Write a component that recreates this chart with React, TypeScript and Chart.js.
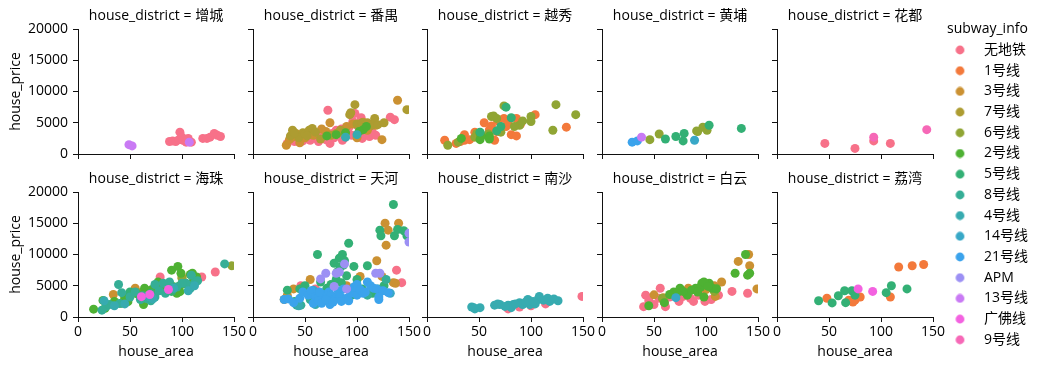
import React, { useEffect, useRef } from "react";
import { Chart, registerables } from "chart.js";
Chart.register(...registerables);

type Pt = [number, number];

const LINES = ["无地铁", "1号线", "3号线", "7号线", "6号线", "2号线", "5号线", "8号线", "4号线", "14号线", "21号线", "APM", "13号线", "广佛线", "9号线"];
const COLORS = ["#f77189", "#f3793b", "#cb9132", "#ad9c31", "#90a534", "#4eb133", "#33b075", "#35ae96", "#37abb0", "#38a8c7", "#3ba3ec", "#9c90f4", "#c97af4", "#f362e0", "#f668b7"];
const DISTRICTS = ["增城", "番禺", "越秀", "黄埔", "花都", "海珠", "天河", "南沙", "白云", "荔湾"];
const X_TICKS = [0, 50, 100, 150];
const Y_TICKS = [0, 5000, 10000, 15000, 20000];

// 增城
const zc_none: Pt[] = [[88, 2000], [91, 2100], [94, 2000], [97, 2300], [98, 3500], [100, 2700], [101, 2200], [104, 1900], [106, 2500], [109, 1900], [120, 2500], [124, 2500], [127, 2700], [131, 3300], [134, 3000], [137, 2800]];
const zc_13: Pt[] = [[49, 1500], [52, 1300], [107, 1900]];

// 番禺
const py_none: Pt[] = [[33, 1700], [36, 2300], [40, 2000], [45, 2400], [48, 2100], [52, 2600], [55, 2200], [60, 2500], [63, 2000], [66, 2800], [70, 2300], [72, 7000], [74, 1700], [78, 2600], [80, 3800], [82, 3200], [85, 4000], [88, 2600], [90, 3500], [92, 4200], [95, 3000], [98, 6500], [100, 4600], [102, 3500], [105, 2500], [108, 3200], [110, 4000], [112, 2800], [115, 3400], [118, 3000], [132, 5900], [136, 5500], [62, 3000], [76, 3300], [86, 2200], [96, 5200], [104, 5800]];
const py_3: Pt[] = [[32, 1400], [35, 2300], [38, 2700], [42, 3200], [50, 2600], [58, 3000], [66, 4000], [70, 3600], [74, 5000], [84, 3500], [90, 4400], [96, 4800], [100, 2600], [106, 5100], [112, 4400], [118, 4600], [124, 2300], [139, 8600], [110, 3800], [45, 1800]];
const py_7: Pt[] = [[36, 2900], [38, 3800], [44, 2600], [48, 3400], [50, 3200], [54, 3800], [57, 4100], [60, 3500], [65, 2400], [75, 3000], [80, 3300], [84, 3800], [88, 3500], [93, 6300], [94, 6600], [98, 7900], [100, 4800], [105, 5000], [110, 5000], [114, 4600], [117, 5700], [120, 4700], [126, 5000], [148, 7100], [40, 3400], [52, 2900]];
const py_2: Pt[] = [[71, 2900], [80, 3100], [89, 3400], [102, 3600], [106, 3900], [109, 4400]];
const py_4: Pt[] = [[89, 2700], [100, 3100]];

// 越秀
const yx_1: Pt[] = [[17, 2200], [28, 1700], [32, 2000], [36, 3100], [36, 2200], [41, 2300], [46, 3500], [55, 5000], [60, 3900], [65, 2200], [67, 3600], [68, 5300], [74, 5700], [76, 4400], [81, 3100], [86, 5700], [86, 2900], [104, 6300], [134, 4300], [62, 4500], [78, 5200], [90, 4800]];
const yx_6: Pt[] = [[20, 1400], [30, 1900], [46, 2700], [62, 6000], [67, 5700], [74, 7700], [71, 3500], [89, 4600], [100, 6000], [100, 5200], [121, 3800], [124, 7900], [143, 6300], [59, 3200], [84, 4400], [92, 5300], [64, 6100], [48, 3300]];
const yx_2: Pt[] = [[33, 2500], [51, 3400], [51, 2300], [60, 2900], [60, 2400], [52, 2800]];
const yx_5: Pt[] = [[51, 3500], [67, 3700], [71, 4400], [76, 7500], [81, 5800]];

// 黄埔
const hp_6: Pt[] = [[46, 2300], [55, 3200], [91, 3700], [97, 4300], [101, 3800], [92, 3600]];
const hp_5: Pt[] = [[61, 2400], [71, 2800], [79, 3300], [78, 2100], [103, 4600], [134, 4100]];
const hp_14: Pt[] = [[89, 2200]];
const hp_21: Pt[] = [[29, 1900], [34, 2100]];
const hp_13: Pt[] = [[38, 2700]];

// 花都
const hd_none: Pt[] = [[46, 1700], [75, 900], [93, 2100], [109, 1700]];
const hd_9: Pt[] = [[93, 2700], [144, 3900]];

// 海珠
const hz_none: Pt[] = [[79, 6400], [119, 6400], [132, 7200], [60, 3300]];
const hz_3: Pt[] = [[34, 3600], [55, 4600], [77, 5400], [100, 6400], [45, 3300], [88, 4800]];
const hz_6: Pt[] = [[148, 8200], [58, 3900], [100, 6200], [85, 4600]];
const hz_2: Pt[] = [[15, 1250], [26, 1400], [24, 2650], [42, 2200], [48, 2450], [53, 3800], [64, 4600], [71, 4400], [90, 7500], [96, 8100], [99, 7000], [98, 4050], [77, 5600], [114, 6400], [111, 5800], [90, 5000], [63, 2000], [35, 2500], [45, 3000], [58, 3600], [68, 3000], [85, 4200], [95, 3800], [105, 5200], [108, 6800], [80, 4800], [98, 5000], [110, 7000]];
const hz_5: Pt[] = [[50, 4000], [70, 3800], [90, 4100]];
const hz_8: Pt[] = [[23, 1100], [27, 1650], [39, 5200], [42, 3900], [40, 2150], [50, 3200], [55, 4000], [66, 2950], [74, 3200], [82, 5400], [88, 5600], [84, 3800], [109, 6700], [108, 4600], [112, 5400], [104, 5400], [141, 8500], [74, 5200], [100, 5400], [60, 2800], [70, 2600], [62, 3400], [30, 2000], [78, 4200], [115, 5800], [95, 4800]];
const hz_4: Pt[] = [[25, 2600], [35, 1800], [45, 2100], [68, 3300], [72, 2900], [92, 4600], [106, 4200], [112, 5000]];
const hz_gf: Pt[] = [[61, 3250], [69, 3600], [87, 4400]];

// 天河
const th_none: Pt[] = [[46, 5000], [138, 7500], [143, 5500], [60, 4500]];
const th_3: Pt[] = [[127, 15000], [140, 15000], [130, 13900], [128, 11500], [119, 9000], [55, 6000], [39, 4500], [137, 5400], [103, 6500], [33, 3500], [30, 2800], [48, 4800], [70, 4000], [90, 5000], [124, 6500], [135, 5500]];
const th_5: Pt[] = [[135, 18000], [122, 13900], [123, 13000], [136, 13000], [139, 14000], [145, 13800], [148, 13000], [92, 11800], [62, 10000], [86, 10000], [83, 9400], [78, 8600], [87, 8300], [97, 8100], [110, 8200], [33, 4300], [50, 5000], [81, 7200], [90, 6600], [71, 4600], [57, 3000], [94, 4000], [119, 4000], [126, 5000], [65, 5600], [75, 5200], [88, 9000], [84, 8000], [80, 6000], [100, 6000], [60, 4000], [45, 4500], [85, 5500], [95, 3500], [105, 4500], [115, 3800], [70, 3200], [40, 2500]];
const th_8: Pt[] = [[42, 1900], [46, 1900], [40, 2300], [55, 2800], [65, 2500], [78, 3200], [95, 4400], [110, 3500], [128, 6000], [120, 4500]];
const th_4: Pt[] = [[44, 1800], [60, 2000]];
const th_14: Pt[] = [[132, 3800], [58, 4300]];
const th_21: Pt[] = [[30, 2800], [34, 2900], [39, 2300], [45, 3000], [48, 4000], [53, 3500], [56, 4200], [58, 2200], [60, 3200], [62, 3000], [63, 2600], [66, 2200], [68, 3600], [71, 2600], [73, 4000], [74, 2000], [75, 3500], [78, 2800], [80, 3000], [82, 4200], [84, 3300], [87, 4500], [90, 3000], [94, 3800], [97, 4800], [100, 5200], [100, 3500], [103, 4400], [106, 3800], [108, 4000], [110, 5600], [113, 5000], [116, 4600], [119, 4500], [121, 2800], [125, 4200], [130, 3900], [121, 3200], [64, 4000], [70, 2800], [77, 2400], [85, 2500], [92, 2600]];
const th_apm: Pt[] = [[150, 13400], [150, 12000], [88, 8500], [70, 7000], [65, 6100], [83, 7200], [78, 4900], [90, 4500], [118, 7000], [122, 7000], [80, 7000]];

// 南沙
const ns_none: Pt[] = [[78, 1300], [149, 3300], [114, 2100], [89, 1600], [100, 1800]];
const ns_4: Pt[] = [[43, 1600], [46, 1300], [51, 1500], [65, 1900], [70, 2000], [78, 1900], [83, 2000], [89, 2300], [97, 2800], [99, 2000], [107, 2800], [108, 3300], [116, 3000], [118, 2500], [126, 2600], [104, 2100], [81, 1500], [92, 2000], [45, 1500], [68, 2100], [75, 1700], [85, 2100], [95, 2400], [102, 2500], [112, 2700], [122, 2900]];

// 白云
const by_none: Pt[] = [[42, 3500], [40, 1650], [56, 4600], [61, 1650], [55, 3000], [80, 4100], [88, 2500], [99, 2500], [125, 4100], [140, 3800], [112, 3500], [93, 3500], [74, 2500], [45, 2600], [50, 2000], [65, 3200], [70, 3800], [85, 3000], [105, 2800], [95, 4200], [60, 2300], [78, 3300]];
const by_3: Pt[] = [[50, 3550], [131, 8900], [141, 10000], [142, 8200], [149, 4500], [115, 5600], [109, 3300], [83, 4600], [59, 3100], [100, 4400], [70, 3500], [108, 5000]];
const by_6: Pt[] = [[110, 4600], [58, 3000], [108, 4100]];
const by_2: Pt[] = [[45, 1800], [60, 2300], [69, 4000], [75, 4600], [82, 3500], [90, 4600], [96, 5400], [103, 5400], [98, 3200], [128, 7000], [138, 10000], [140, 6700], [142, 7000], [106, 4600], [100, 5200], [95, 4800], [86, 4300], [78, 4100], [72, 3800], [65, 3600], [92, 4000], [110, 4500], [98, 5600], [102, 4900]];
const by_14: Pt[] = [[71, 3100]];

// 荔湾
const lw_1: Pt[] = [[48, 3000], [69, 2700], [75, 2700], [80, 3200], [109, 3200], [117, 8000], [130, 8200], [141, 8400], [73, 2400]];
const lw_5: Pt[] = [[40, 2600], [53, 2250], [59, 3400], [65, 4200], [66, 2300], [72, 4200], [75, 3500], [105, 3900], [110, 5000], [125, 4500]];
const lw_gf: Pt[] = [[78, 4500], [92, 4100]];

const PANEL_DATA: Record<string, [string, Pt[]][]> = {
  增城: [["无地铁", zc_none], ["13号线", zc_13]],
  番禺: [["无地铁", py_none], ["3号线", py_3], ["7号线", py_7], ["2号线", py_2], ["4号线", py_4]],
  越秀: [["1号线", yx_1], ["6号线", yx_6], ["2号线", yx_2], ["5号线", yx_5]],
  黄埔: [["6号线", hp_6], ["5号线", hp_5], ["14号线", hp_14], ["21号线", hp_21], ["13号线", hp_13]],
  花都: [["无地铁", hd_none], ["9号线", hd_9]],
  海珠: [["无地铁", hz_none], ["3号线", hz_3], ["6号线", hz_6], ["2号线", hz_2], ["5号线", hz_5], ["8号线", hz_8], ["4号线", hz_4], ["广佛线", hz_gf]],
  天河: [["无地铁", th_none], ["3号线", th_3], ["5号线", th_5], ["8号线", th_8], ["4号线", th_4], ["14号线", th_14], ["21号线", th_21], ["APM", th_apm]],
  南沙: [["无地铁", ns_none], ["4号线", ns_4]],
  白云: [["无地铁", by_none], ["3号线", by_3], ["6号线", by_6], ["2号线", by_2], ["14号线", by_14]],
  荔湾: [["1号线", lw_1], ["5号线", lw_5], ["广佛线", lw_gf]],
};

// layout (pixels)
const PLOT_LEFTS = [78, 253, 427, 602, 777];
const PLOT_TOPS = [29, 192];
const PLOT_W = 156;
const PLOT_H = 125;
const Y_AXIS_W = 78;
const TITLE_H = 29;
const X_AXIS_H = 45;
const RIGHT_PAD = 22;
const CW = Y_AXIS_W + PLOT_W + RIGHT_PAD;
const CH = TITLE_H + PLOT_H + X_AXIS_H;
const FONT = "'Open Sans', 'Noto Sans CJK SC', sans-serif";
const FS = 14;
const AXIS_COLOR = "#111";

function makePanel(canvas: HTMLCanvasElement, district: string, col: number, row: number) {
  const series = PANEL_DATA[district];
  const datasets = series.map(([line, pts]) => {
    const hi = LINES.indexOf(line);
    return {
      label: line,
      data: pts.map(([x, y]) => ({ x, y })),
      backgroundColor: COLORS[hi],
      borderColor: COLORS[hi],
      pointRadius: 4.5,
      pointBorderWidth: 0,
      pointHoverRadius: 4.5,
      showLine: false,
      order: LINES.length - hi,
      clip: 0,
    };
  });
  const font = { family: FONT, size: FS, lineHeight: 1 };
  return new Chart(canvas, {
    type: "scatter",
    data: { datasets },
    options: {
      responsive: false,
      animation: false,
      devicePixelRatio: 1,
      events: [],
      layout: { padding: { left: 0, top: 0, right: RIGHT_PAD, bottom: 0 } },
      plugins: {
        legend: { display: false },
        tooltip: { enabled: false },
        title: {
          display: true,
          fullSize: false,
          text: `house_district = ${district}`,
          color: "#000",
          font: { ...font, weight: "normal" },
          padding: { top: 9, bottom: TITLE_H - 9 - FS },
        },
      },
      scales: {
        x: {
          type: "linear",
          min: 0,
          max: 150,
          afterBuildTicks: (s: any) => {
            s.ticks = X_TICKS.map((v) => ({ value: v }));
          },
          afterFit: (s: any) => {
            s.height = X_AXIS_H;
            s.paddingLeft = 0;
            s.paddingRight = 0;
          },
          grid: { drawOnChartArea: false, drawTicks: true, tickLength: 5, color: AXIS_COLOR, lineWidth: 1 },
          border: { display: true, color: AXIS_COLOR, width: 1 },
          ticks: {
            display: row === 1,
            padding: 3,
            color: "#000",
            font,
            maxRotation: 0,
            autoSkip: false,
            callback: (v: any) => String(v),
          },
          title: { display: row === 1, text: "house_area", color: "#000", font, padding: { top: 0, bottom: 3 } },
        },
        y: {
          type: "linear",
          min: 0,
          max: 20000,
          afterBuildTicks: (s: any) => {
            s.ticks = Y_TICKS.map((v) => ({ value: v }));
          },
          afterFit: (s: any) => {
            s.width = Y_AXIS_W;
            s.paddingTop = 0;
            s.paddingBottom = 0;
          },
          grid: { drawOnChartArea: false, drawTicks: true, tickLength: 5, color: AXIS_COLOR, lineWidth: 1 },
          border: { display: true, color: AXIS_COLOR, width: 1 },
          ticks: {
            display: col === 0,
            padding: 5,
            color: "#000",
            font,
            autoSkip: false,
            callback: (v: any) => String(v),
          },
          title: { display: col === 0, text: "house_price", color: "#000", font, padding: { top: 9, bottom: 0 } },
        },
      },
    } as any,
  });
}

function markerImage(color: string) {
  const c = document.createElement("canvas");
  c.width = 24;
  c.height = 10;
  const ctx = c.getContext("2d")!;
  ctx.fillStyle = color;
  ctx.beginPath();
  ctx.arc(6.65, 5, 4.4, 0, Math.PI * 2);
  ctx.fill();
  return c;
}

function makeLegend(canvas: HTMLCanvasElement) {
  const imgs = COLORS.map(markerImage);
  return new Chart(canvas, {
    type: "scatter",
    data: { datasets: LINES.map((l, i) => ({ label: l, data: [], backgroundColor: COLORS[i] })) },
    options: {
      responsive: false,
      animation: false,
      devicePixelRatio: 1,
      events: [],
      scales: { x: { display: false }, y: { display: false } },
      plugins: {
        tooltip: { enabled: false },
        legend: {
          display: true,
          position: "left",
          align: "start",
          title: {
            display: true,
            text: "subway_info",
            color: "#000",
            position: "start",
            font: { family: FONT, size: FS, lineHeight: 1 },
            padding: { top: 22.3, bottom: 0 },
          },
          labels: {
            usePointStyle: true,
            pointStyleWidth: 23.3,
            boxHeight: 9,
            padding: 6.7,
            color: "#000",
            font: { family: FONT, size: FS },
            generateLabels: () =>
              LINES.map((l, i) => ({
                text: l,
                pointStyle: imgs[i],
                fillStyle: COLORS[i],
                strokeStyle: COLORS[i],
                lineWidth: 0,
                hidden: false,
                datasetIndex: i,
                fontColor: "#000",
              })),
          },
        },
      },
    } as any,
  });
}

export default function App() {
  const refs = useRef<(HTMLCanvasElement | null)[]>([]);
  const legendRef = useRef<HTMLCanvasElement | null>(null);
  useEffect(() => {
    const charts: Chart[] = [];
    DISTRICTS.forEach((d, i) => {
      const c = refs.current[i];
      if (c) charts.push(makePanel(c, d, i % 5, Math.floor(i / 5)));
    });
    if (legendRef.current) charts.push(makeLegend(legendRef.current));
    return () => charts.forEach((c) => c.destroy());
  }, []);
  return (
    <div style={{ position: "absolute", left: 0, top: 0, width: 1039, height: 370, overflow: "hidden", background: "#fff" }}>
      {DISTRICTS.map((d, i) => {
        const col = i % 5;
        const row = Math.floor(i / 5);
        return (
          <canvas
            key={d}
            ref={(el) => {
              refs.current[i] = el;
            }}
            width={CW}
            height={CH}
            style={{ position: "absolute", left: PLOT_LEFTS[col] - Y_AXIS_W, top: PLOT_TOPS[row] - TITLE_H, width: CW, height: CH }}
          />
        );
      })}
      <canvas ref={legendRef} width={200} height={370} style={{ position: "absolute", left: 947, top: 0, width: 200, height: 370 }} />
    </div>
  );
}
